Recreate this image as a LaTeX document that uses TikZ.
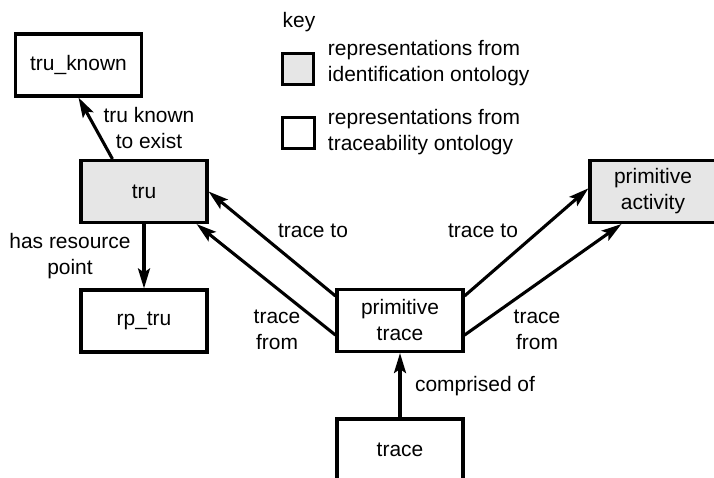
\documentclass[tikz,border=0pt]{standalone}
\usepackage{fontspec}
\setmainfont{Liberation Sans}
\usetikzlibrary{positioning, arrows.meta, calc}
\definecolor{idgray}{HTML}{E6E6E6}

\begin{document}
\begin{tikzpicture}[
    x=0.025cm, y=-0.025cm,
    every node/.style={font=\fontsize{14.9}{18.5}\selectfont},
    concept/.style={rectangle, draw=black, line width=2.2pt, minimum width=3.15cm,
                    minimum height=1.55cm, inner sep=0pt, align=center},
    idconcept/.style={concept, fill=idgray},
    keybox/.style={rectangle, draw=black, line width=2.2pt, minimum size=0.78cm, inner sep=0pt},
    arrow/.style={-{Stealth[length=5mm, width=3mm, inset=1mm]}, line width=2.2pt},
    label/.style={align=center}
]
    \useasboundingbox (0,0) rectangle (714,478);

    % === Key ===
    \node (keytitle) at (299, 22) {key};
    \node[keybox, fill=idgray] (keyid) at (298, 69) {};
    \node[keybox] (keytr) at (298.5, 133) {};
    \node[anchor=west, align=left] (keyidtext) at (323, 63)
        {representations from\\identification ontology};
    \node[anchor=west, align=left] (keytrtext) at (323, 132)
        {representations from\\traceability ontology};

    % === Concepts ===
    \node[concept] (known) at (78.5, 65) {tru\_known};
    \node[idconcept] (tru) at (144, 191.5) {tru};
    \node[concept] (rptru) at (144, 321) {rp\_tru};
    \node[concept] (ptrace) at (400, 320.5) {primitive\\trace};
    \node[idconcept] (pact) at (653, 191.5) {primitive\\activity};
    \node[concept] (trace) at (400, 450) {trace};

    % === Relations ===
    \draw[arrow] ([xshift=0.825cm]tru.north west) -- (known.south);
    \node[label] (knownlbl) at (149, 128) {tru known\\to exist};

    \draw[arrow] (tru.south) -- (rptru.north);
    \node[label] (rplbl) at (70, 256) {has resource\\point};

    \draw[arrow] ([yshift=-0.2cm]ptrace.north west) -- (tru.east);
    \draw[arrow] ([yshift=0.45cm]ptrace.south west) -- ([xshift=-0.3cm]tru.south east);
    \node (totrulbl) at (313, 231) {trace to};
    \node[label] (fromtrulbl) at (277, 330) {trace\\from};

    \draw[arrow] ([yshift=-0.2cm]ptrace.north east) -- ([yshift=0.08cm]pact.west);
    \draw[arrow] ([yshift=0.45cm]ptrace.south east) -- ([xshift=0.825cm]pact.south west);
    \node (topactlbl) at (483, 231) {trace to};
    \node[label] (frompactlbl) at (537, 330) {trace\\from};

    \draw[arrow] (trace.north) -- (ptrace.south);
    \node (complbl) at (475, 386) {comprised of};

\end{tikzpicture}
\end{document}
